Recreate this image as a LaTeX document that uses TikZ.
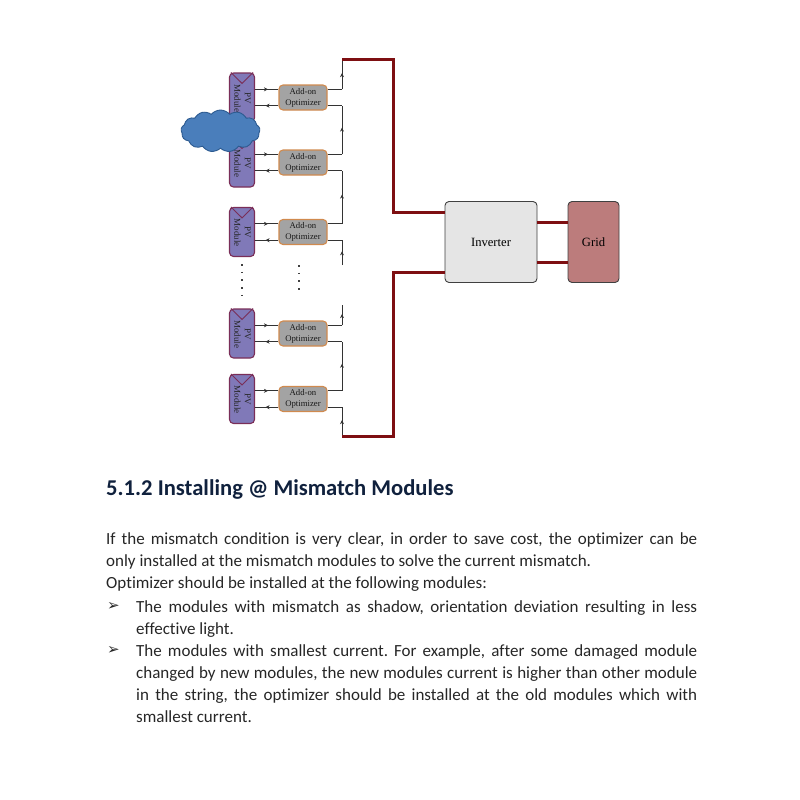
\documentclass[tikz,border=0pt]{standalone}
\usepackage{fontspec}
\setmainfont[Ligatures=NoCommon]{Carlito}
\newfontfamily\labelfont{Liberation Serif}
\newfontfamily\symfont{DejaVu Sans}
\usetikzlibrary{arrows.meta,decorations.markings,shapes.symbols}
\definecolor{modfill}{HTML}{8079B8}
\definecolor{modedge}{HTML}{7A2E58}
\definecolor{optfill}{HTML}{A3A3A3}
\definecolor{optedge}{HTML}{D08A4E}
\definecolor{feedred}{HTML}{7E0F12}
\definecolor{gridfill}{HTML}{BC7C7C}
\definecolor{cloudfill}{HTML}{4A7EBB}
\definecolor{cloudedge}{HTML}{2C5A90}
\definecolor{headcol}{HTML}{10213D}
\definecolor{bodycol}{HTML}{262626}

\begin{document}
\frenchspacing
\begin{tikzpicture}[
  x=1pt, y=-1pt,
  module/.style={draw=modedge, line width=1.1pt, rounded corners=4pt, fill=modfill,
                 minimum width=25pt, minimum height=49pt, inner sep=0pt},
  modlbl/.style={font=\labelfont\fontsize{9}{10.5}\selectfont, rotate=-90, align=center,
                 inner sep=0pt, text=black!85},
  vmark/.style={draw=modedge, line width=1pt},
  opti/.style={draw=optedge, line width=1.1pt, rounded corners=4pt, fill=optfill,
               minimum width=48pt, minimum height=25pt, inner sep=0pt, align=center,
               font=\labelfont\fontsize{8.7}{11}\selectfont, text=black!90},
  bigbox/.style={draw=black!75, line width=0.9pt, rounded corners=4pt, minimum height=81pt,
                 inner sep=0pt, font=\labelfont\fontsize{12.6}{14}\selectfont},
  lead/.style={line width=1pt, draw=black!80},
  wire/.style={lead, postaction={decorate}, decoration={markings,
               mark=at position 0.55 with {\arrow{Stealth[length=4pt,width=4pt]}}}},
  feeder/.style={line width=3pt, draw=feedred},
  dotline/.style={line width=1.5pt, draw=black!75, dash pattern=on 1.5pt off 6.2pt},
  bodytxt/.style={font=\fontsize{17}{22}\selectfont, text=bodycol, align=justify,
                  inner sep=0pt, anchor=north west},
  bulletmark/.style={font=\symfont\fontsize{15}{22}\selectfont, text=bodycol, inner sep=0pt, anchor=west},
]
\useasboundingbox (0,0) rectangle (800,800);

% ---------------- pv modules ----------------
\node[module] (m1) at (242,97.5) {};
\node[module] (m2) at (242,162.5) {};
\node[module] (m3) at (242,232) {};
\node[module] (m4) at (242,333.5) {};
\node[module] (m5) at (242,399) {};

\draw[vmark] ([xshift=2pt]m1.north west) -- ([yshift=-11pt]m1.north) -- ([xshift=-2pt]m1.north east);
\draw[vmark] ([xshift=2pt]m2.north west) -- ([yshift=-11pt]m2.north) -- ([xshift=-2pt]m2.north east);
\draw[vmark] ([xshift=2pt]m3.north west) -- ([yshift=-11pt]m3.north) -- ([xshift=-2pt]m3.north east);
\draw[vmark] ([xshift=2pt]m4.north west) -- ([yshift=-11pt]m4.north) -- ([xshift=-2pt]m4.north east);
\draw[vmark] ([xshift=2pt]m5.north west) -- ([yshift=-11pt]m5.north) -- ([xshift=-2pt]m5.north east);

\node[modlbl] (l1) at (242.5,98) {PV\\Module};
\node[modlbl] (l2) at (242.5,163) {PV\\Module};
\node[modlbl] (l3) at (242.5,232.5) {PV\\Module};
\node[modlbl] (l4) at (242.5,334) {PV\\Module};
\node[modlbl] (l5) at (242.5,399.5) {PV\\Module};

% ---------------- optimizers ----------------
\node[opti] (o1) at (303,97.5) {Add-on\\Optimizer};
\node[opti] (o2) at (303,162.5) {Add-on\\Optimizer};
\node[opti] (o3) at (303,232) {Add-on\\Optimizer};
\node[opti] (o4) at (303,333.5) {Add-on\\Optimizer};
\node[opti] (o5) at (303,399) {Add-on\\Optimizer};

% ---------------- module to optimizer ----------------
\draw[wire] ([yshift=8.2pt]m1.east) -- ([yshift=8.2pt]o1.west);
\draw[wire] ([yshift=-8.2pt]o1.west) -- ([yshift=-8.2pt]m1.east);
\draw[wire] ([yshift=8.2pt]m2.east) -- ([yshift=8.2pt]o2.west);
\draw[wire] ([yshift=-8.2pt]o2.west) -- ([yshift=-8.2pt]m2.east);
\draw[wire] ([yshift=8.2pt]m3.east) -- ([yshift=8.2pt]o3.west);
\draw[wire] ([yshift=-8.2pt]o3.west) -- ([yshift=-8.2pt]m3.east);
\draw[wire] ([yshift=8.2pt]m4.east) -- ([yshift=8.2pt]o4.west);
\draw[wire] ([yshift=-8.2pt]o4.west) -- ([yshift=-8.2pt]m4.east);
\draw[wire] ([yshift=8.2pt]m5.east) -- ([yshift=8.2pt]o5.west);
\draw[wire] ([yshift=-8.2pt]o5.west) -- ([yshift=-8.2pt]m5.east);

% ---------------- string bus ----------------
\coordinate (top) at (342,60);
\coordinate (a1) at (342,89.3);
\coordinate (b1) at (342,105.7);
\coordinate (a2) at (342,154.3);
\coordinate (b2) at (342,170.7);
\coordinate (a3) at (342,223.8);
\coordinate (b3) at (342,240.2);
\coordinate (gapa) at (342,265);
\coordinate (gapb) at (342,305);
\coordinate (a4) at (342,325.3);
\coordinate (b4) at (342,341.7);
\coordinate (a5) at (342,390.8);
\coordinate (b5) at (342,407.2);
\coordinate (bot) at (342,436);

\draw[lead] ([yshift=8.2pt]o1.east) -- (a1);
\draw[lead] ([yshift=-8.2pt]o1.east) -- (b1);
\draw[lead] ([yshift=8.2pt]o2.east) -- (a2);
\draw[lead] ([yshift=-8.2pt]o2.east) -- (b2);
\draw[lead] ([yshift=8.2pt]o3.east) -- (a3);
\draw[lead] ([yshift=-8.2pt]o3.east) -- (b3);
\draw[lead] ([yshift=8.2pt]o4.east) -- (a4);
\draw[lead] ([yshift=-8.2pt]o4.east) -- (b4);
\draw[lead] ([yshift=8.2pt]o5.east) -- (a5);
\draw[lead] ([yshift=-8.2pt]o5.east) -- (b5);

\draw[wire] (a1) -- (top);
\draw[wire] (a2) -- (b1);
\draw[wire] (a3) -- (b2);
\draw[wire] (gapa) -- (b3);
\draw[wire] (a4) -- (gapb);
\draw[wire] (a5) -- (b4);
\draw[wire] (bot) -- (b5);

% ---------------- gap dots ----------------
\draw[dotline] ([yshift=-7pt]m3.south) -- ([yshift=7pt]m4.north);
\draw[dotline] ([xshift=-4pt,yshift=-20pt]o3.south) -- ([xshift=-4pt,yshift=26pt]o4.north);

% ---------------- inverter and grid ----------------
\node[bigbox, fill=black!10, minimum width=92pt] (inv) at (491,242) {Inverter};
\node[bigbox, fill=gridfill, minimum width=51pt] (grid) at (593.5,242) {Grid};

\draw[feeder] (top) -- ++(51,0) |- ([yshift=30pt]inv.west);
\draw[feeder] (bot) -- ++(51,0) |- ([yshift=-30pt]inv.west);
\draw[feeder] ([yshift=20pt]inv.east) -- ([yshift=20pt]grid.west);
\draw[feeder] ([yshift=-20pt]inv.east) -- ([yshift=-20pt]grid.west);

% ---------------- shading cloud ----------------
\node[cloud, cloud puffs=13, cloud puff arc=100, aspect=2, draw=cloudedge, line width=0.9pt,
      fill=cloudfill, minimum width=79pt, minimum height=42pt, inner sep=0pt] (shade) at (220.5,131) {};

% ---------------- text below ----------------
\node[font=\bfseries\fontsize{22.6}{26}\selectfont, text=headcol, inner sep=0pt, anchor=west] (head) at (106,489)
  {5.1.2 Installing @ Mismatch Modules};

\node[bodytxt, text width=591pt] (para) at (106,532)
  {If the mismatch condition is very clear, in order to save cost, the optimizer can be\linebreak
   only installed at the mismatch modules to solve the current mismatch.\\
   Optimizer should be installed at the following modules:};

\node[bulletmark] (b1mark) at (107,606) {➢};
\node[bodytxt, text width=561pt] (item1) at (136,600)
  {The modules with mismatch as shadow, orientation deviation resulting in less\linebreak
   effective light.};

\node[bulletmark] (b2mark) at (107,650) {➢};
\node[bodytxt, text width=561pt] (item2) at (136,644)
  {The modules with smallest current. For example, after some damaged module\linebreak
   changed by new modules, the new modules current is higher than other module\linebreak
   in the string, the optimizer should be installed at the old modules which with\linebreak
   smallest current.};

\end{tikzpicture}
\end{document}
